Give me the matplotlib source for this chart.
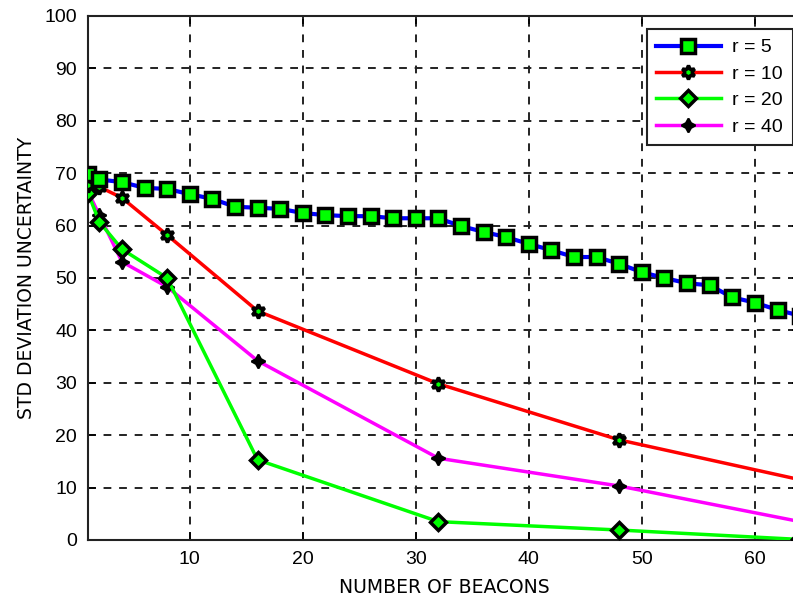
import matplotlib
matplotlib.use("Agg")
import matplotlib.pyplot as plt

plt.rcParams['font.family'] = ['Liberation Sans', 'DejaVu Sans']

# Number of beacons for each radius setting
beacons_r5 = [1] + list(range(2, 65, 2))
std_r5 = [69.8, 68.8, 68.3, 67.2, 67.0, 66.0, 65.1, 63.6, 63.4, 63.2, 62.4,
          62.0, 61.8, 61.8, 61.4, 61.4, 61.4, 59.9, 58.8, 57.8, 56.5, 55.3,
          54.0, 54.0, 52.7, 51.1, 50.0, 49.0, 48.6, 46.3, 45.3, 43.9, 42.8]

beacons_sparse = [1, 2, 4, 8, 16, 32, 48, 64]
std_r10 = [67.8, 67.4, 65.3, 58.2, 43.7, 29.8, 19.1, 11.5]
std_r20 = [66.2, 60.7, 55.5, 50.0, 15.3, 3.5, 1.9, 0.1]
std_r40 = [66.5, 62.0, 53.1, 48.3, 34.2, 15.6, 10.3, 3.5]

x_ticks = [10, 20, 30, 40, 50, 60]
y_ticks = list(range(0, 101, 10))

fig = plt.figure(figsize=(7.93, 5.97), dpi=100)
ax = fig.add_axes([0.111, 0.0955, 0.898, 0.8777])

ax.plot(beacons_sparse, std_r40, color=(1, 0, 1), lw=2.5, marker=(4, 1, 0),
        ms=10, mfc='black', mec='black', mew=1.5, label='r = 40', zorder=3)
ax.plot(beacons_sparse, std_r20, color=(0, 1, 0), lw=2.5, marker='D',
        ms=8, mfc=(0, 1, 0), mec='black', mew=2.5, label='r = 20', zorder=4)
ax.plot(beacons_sparse, std_r10, color=(1, 0, 0), lw=2.5, marker=(6, 1, 0),
        ms=10, mfc=(0, 1, 0), mec='black', mew=2.5, label='r = 10', zorder=5)
ax.plot(beacons_r5, std_r5, color=(0, 0, 1), lw=3, marker='s',
        ms=10, mfc=(0, 1, 0), mec='black', mew=2.5, label='r = 5', zorder=6)

ax.set_xlim(1, 64)
ax.set_ylim(0, 100)
ax.set_xticks(x_ticks)
ax.set_yticks(y_ticks)
ax.tick_params(direction='in', length=6, width=1.2, top=True, right=True,
               labelsize=14, colors='black', pad=8)
ax.grid(True, color='#222222', linestyle=(0, (4, 4)), linewidth=1.4)
ax.set_axisbelow(True)
for s in ax.spines.values():
    s.set_linewidth(1.5)
    s.set_color('#222222')

ax.set_xlabel('NUMBER OF BEACONS', fontsize=13.5, labelpad=7,
              family=['DejaVu Sans'])
ax.set_ylabel('STD DEVIATION UNCERTAINTY', fontsize=13.5, labelpad=6,
              family=['DejaVu Sans'])

handles, labels = ax.get_legend_handles_labels()
order = [3, 2, 1, 0]
leg = ax.legend([handles[i] for i in order], [labels[i] for i in order],
                loc='upper right', bbox_to_anchor=(0.9895, 0.975),
                fontsize=14, handlelength=3.3, borderaxespad=0,
                fancybox=False, edgecolor='#222222', framealpha=1,
                labelspacing=0.45, handletextpad=0.6, borderpad=0.5)
leg.get_frame().set_linewidth(1.5)

fig.savefig('out.png', dpi=100)
